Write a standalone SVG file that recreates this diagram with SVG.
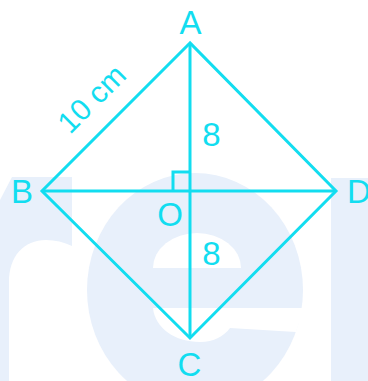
<svg xmlns="http://www.w3.org/2000/svg" width="368" height="381" viewBox="0 0 368 381">
<style>
.wm{fill:#E8F0FB}
.cut{fill:#FFFFFF}
.ln{stroke:#12DDF0;stroke-width:3;fill:none;stroke-linejoin:miter;stroke-linecap:butt}
.lb{font-family:"Liberation Sans",Arial,sans-serif;font-size:33px;fill:#12DDF0}
</style>
<rect width="368" height="381" fill="#FFFFFF"/>
<g id="watermark">
<path class="wm" d="M0,200 L12,177 L72,177 L72,246 C64,242 55,240 46,240 C24,240 9,256 9,282 L9,381 L0,381 Z"/>
<ellipse class="wm" cx="195" cy="290" rx="108" ry="117"/>
<path class="cut" d="M153,268 A44,35 0 0 1 241,268 Z"/>
<path class="cut" d="M153,308 C155,328 175,342 200,342 C214,342 224,336 230,328 L296,332 L304,308 Z"/>
<rect class="wm" x="331" y="178" width="37" height="203"/>
</g>
<g id="connectors">
<polygon class="ln" points="190,43 42,191 190,338 336,191"/>
<line class="ln" x1="190" y1="43" x2="190" y2="338"/>
<line class="ln" x1="42" y1="191" x2="336" y2="191"/>
<polyline class="ln" stroke-width="2.5" points="173,191 173,172 190,172"/>
</g>
<g id="A"><text class="lb" x="190.5" y="34" text-anchor="middle">A</text></g>
<g id="B"><text class="lb" x="22" y="203" text-anchor="middle">B</text></g>
<g id="C"><text class="lb" x="189.5" y="376" text-anchor="middle">C</text></g>
<g id="D"><text class="lb" x="347" y="203">D</text></g>
<g id="O"><text class="lb" x="170" y="226" text-anchor="middle">O</text></g>
<g id="labels">
<text class="lb" x="211.5" y="146" text-anchor="middle">8</text>
<text class="lb" x="211.5" y="265" text-anchor="middle">8</text>
<text class="lb" style="font-size:30px" x="99" y="106" text-anchor="middle" transform="rotate(-45 99 106)">10 cm</text>
</g>
</svg>
